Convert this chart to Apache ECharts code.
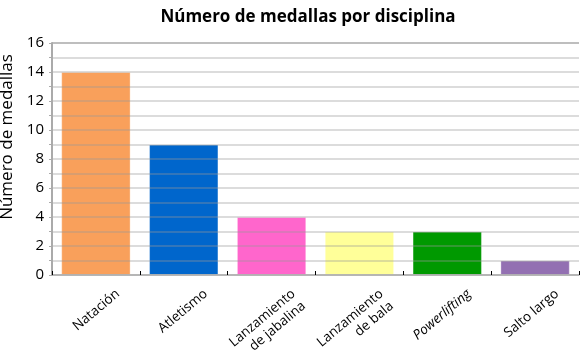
<!DOCTYPE html>
<html>
<head>
<meta charset="utf-8">
<script src="https://cdn.jsdelivr.net/npm/echarts@6/dist/echarts.min.js"></script>
<style>html,body{margin:0;padding:0;background:#fff;}#c{width:580px;height:355px;}</style>
</head>
<body>
<div id="c"></div>
<script>
const categories = ['Natación', 'Atletismo', 'Lanzamiento\nde jabalina', 'Lanzamiento\nde bala', 'Powerlifting', 'Salto largo'];
const values = [14, 9, 4, 3, 3, 1];
const yTicks = [0, 2, 4, 6, 8, 10, 12, 14, 16];
const italicCategories = ['Powerlifting'];
const barColors = ['#F9A05B', '#0066CC', '#FF66CC', '#FFFF99', '#009900', '#9370B2'];

const FONT = '"Open Sans", "Noto Sans", sans-serif';
const chart = echarts.init(document.getElementById('c'), null, {renderer: 'canvas'});
const gridColors = yTicks.map((t, i) => i === yTicks.length - 1 ? '#a8a8a8' : 'rgba(150,150,150,0.45)');
chart.setOption({
  animation: false,
  title: {
    text: 'Número de medallas por disciplina',
    left: 303, top: 4, textAlign: 'center',
    textStyle: {fontFamily: FONT, fontWeight: 'bold', fontSize: 17, color: '#000'}
  },
  grid: {left: 52, right: 1, top: 43, bottom: 80, containLabel: false, outerBoundsMode: 'none'},
  xAxis: {
    type: 'category',
    data: categories,
    z: 5,
    axisLine: {lineStyle: {color: '#aaa', width: 1.5}},
    axisTick: {show: true, inside: true, length: 4, lineStyle: {color: '#000', width: 1}},
    axisLabel: {
      rotate: 40, margin: 25, interval: 0,
      align: 'right', verticalAlign: 'top',
      padding: [0, -22, 0, 0],
      fontFamily: FONT, fontSize: 13.5, color: '#000', lineHeight: 16,
      formatter: v => italicCategories.includes(v) ? '{i|' + v + '}' : v,
      rich: {i: {fontStyle: 'italic', fontFamily: FONT, fontSize: 13.5, color: '#000'}}
    }
  },
  yAxis: {
    type: 'value',
    min: yTicks[0], max: yTicks[yTicks.length - 1], interval: 2,
    z: 5,
    name: 'Número de medallas',
    nameLocation: 'middle', nameGap: 32, nameRotate: 90,
    nameTextStyle: {fontFamily: FONT, fontSize: 17, color: '#000', padding: [0, 0, 0, 44]},
    axisLine: {show: true, lineStyle: {color: '#aaa', width: 2}},
    axisTick: {show: true, length: 3, lineStyle: {color: '#aaa'}},
    minorTick: {show: true, splitNumber: 2, length: 3, lineStyle: {color: '#aaa'}},
    axisLabel: {fontFamily: FONT, fontSize: 15, color: '#000', margin: 8},
    splitLine: {show: true, lineStyle: {color: gridColors, width: 1.5}},
    minorSplitLine: {show: true, lineStyle: {color: 'rgba(150,150,150,0.45)', width: 1.5}}
  },
  series: [{
    type: 'bar',
    data: values.map((v, i) => ({value: v, itemStyle: {color: barColors[i]}})),
    barCategoryGap: '21%',
    itemStyle: {borderColor: 'rgba(255,255,255,0.35)', borderWidth: 1}
  }]
});
</script>
</body>
</html>
